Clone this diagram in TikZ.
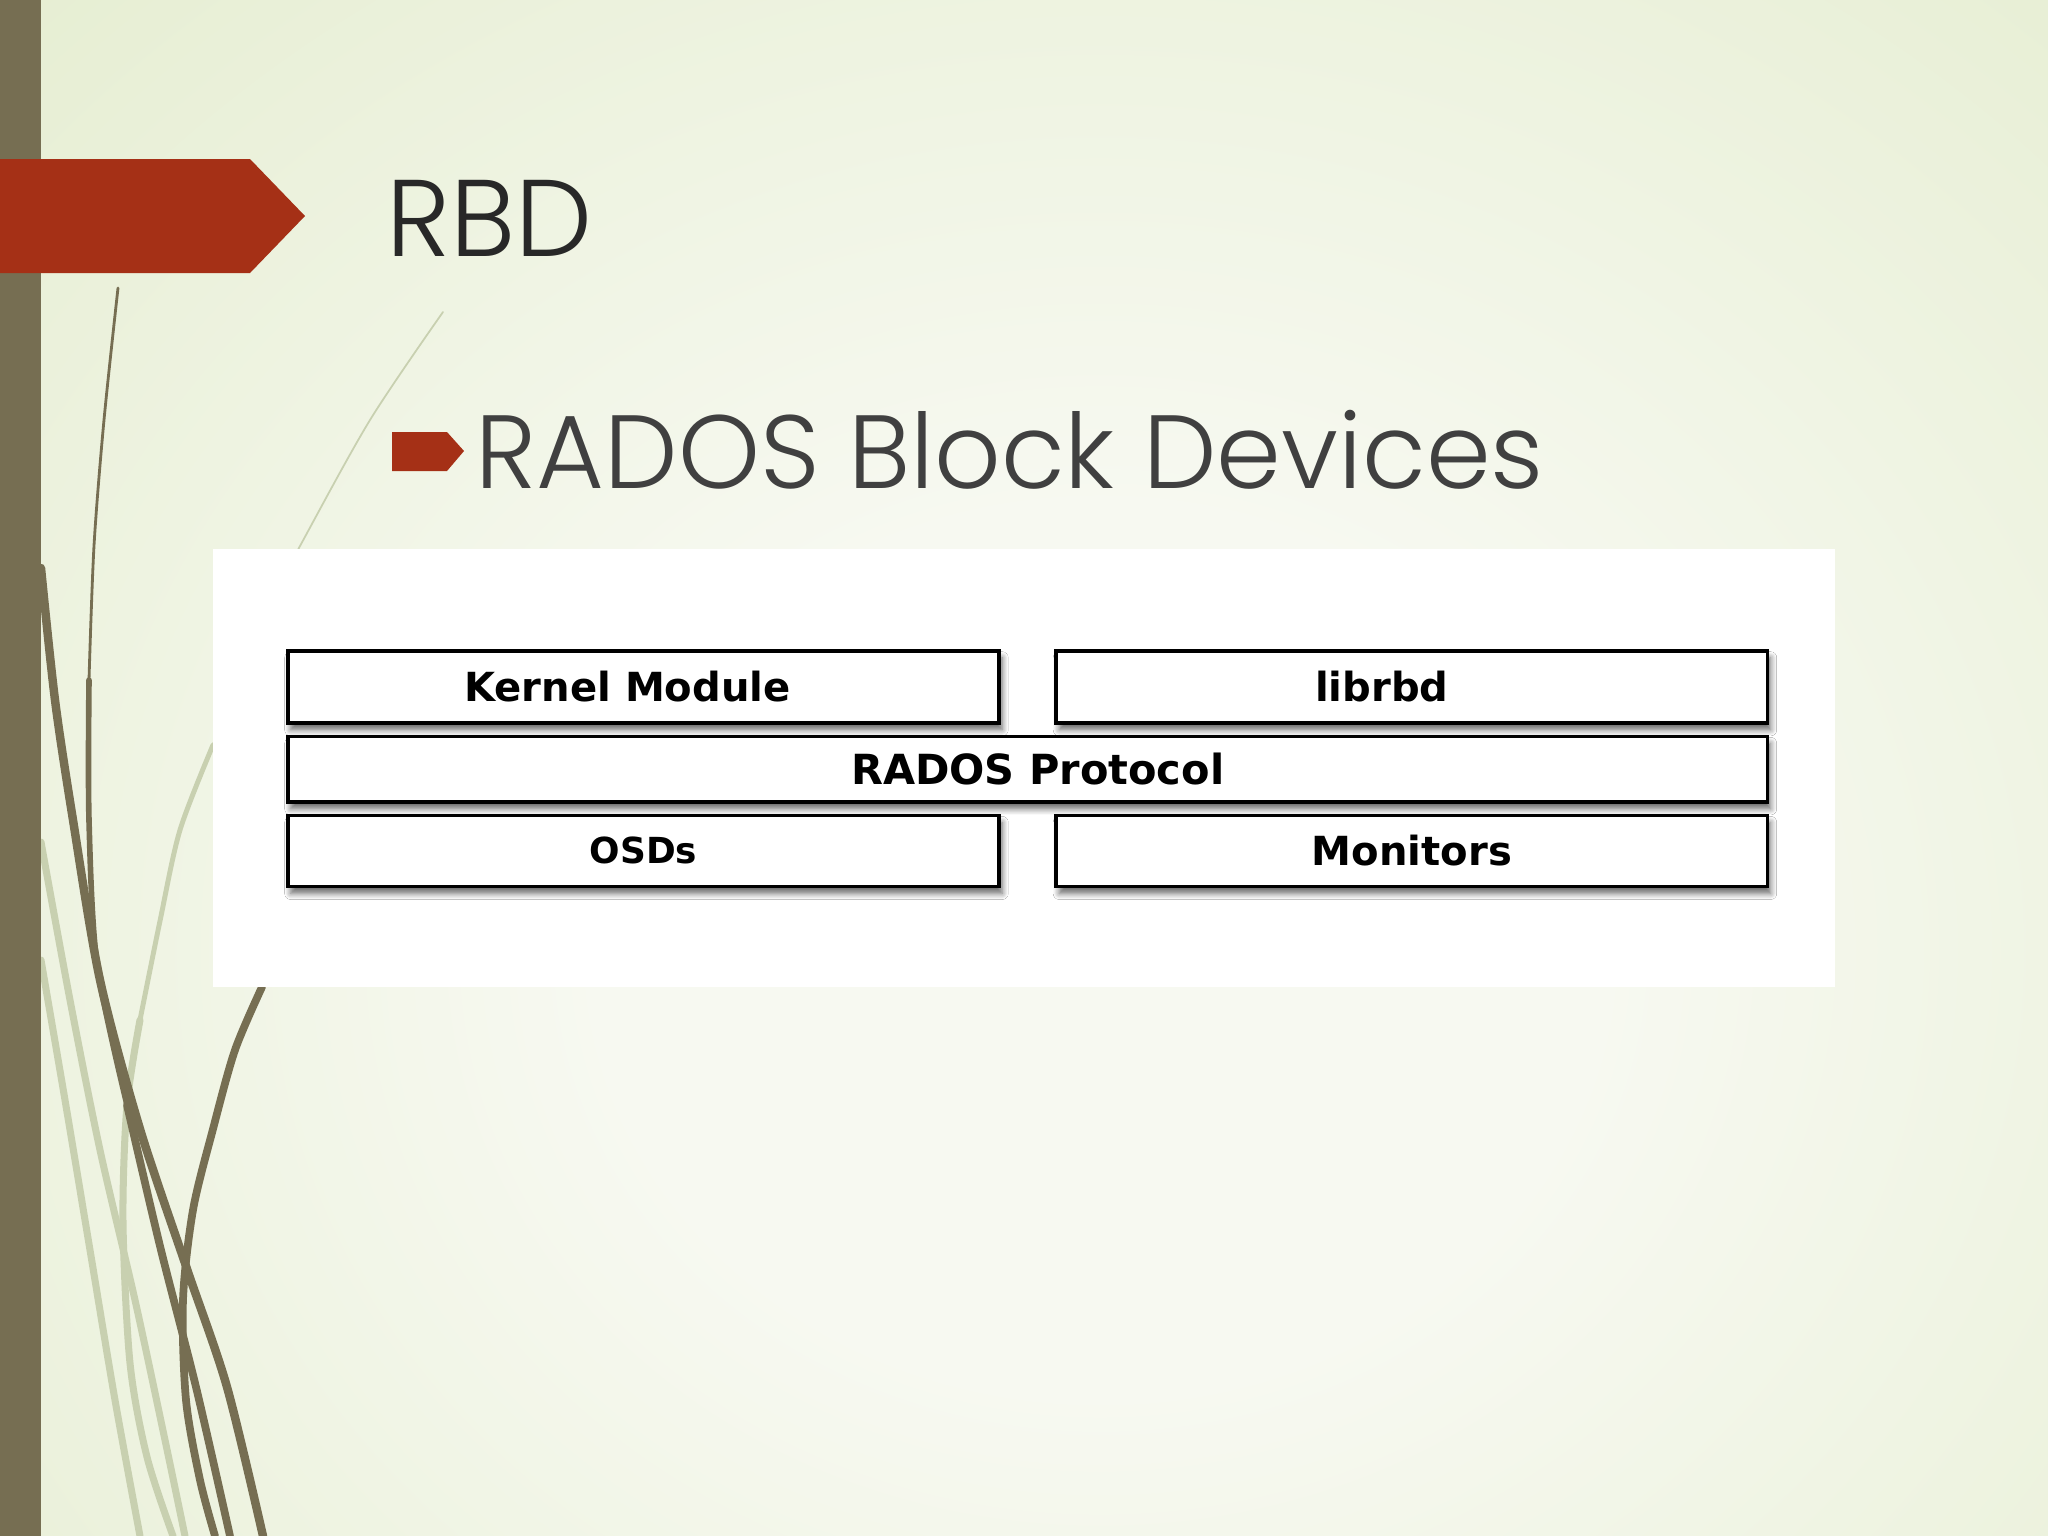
\documentclass[tikz,border=0pt]{standalone}
\usepackage{fontspec}
\newfontfamily\slidefont{Poppins Light}
\newfontfamily\boxfont{DejaVu Sans}
\usetikzlibrary{positioning, shadows.blur}

\definecolor{barOlive}{RGB}{118,110,82}
\definecolor{grassLight}{RGB}{200,208,176}
\definecolor{tabRed}{RGB}{165,48,22}
\definecolor{bgIn}{RGB}{247,249,241}
\definecolor{bgOut}{RGB}{221,232,194}
\definecolor{titleGray}{RGB}{40,40,40}
\definecolor{textGray}{RGB}{64,64,64}

\pgfdeclareradialshading{slideBg}{\pgfpoint{0bp}{0bp}}{color(0bp)=(bgIn); color(10bp)=(bgIn); color(42bp)=(bgOut); color(80bp)=(bgOut)}

\tikzset{
    styleLayer/.style={draw=black, line width=1pt, fill=white, inner sep=0pt,
        minimum width=7.11cm, minimum height=0.72cm,
        font=\boxfont\bfseries\fontsize{11.4}{13}\selectfont,
        blur shadow={shadow xshift=0.03cm, shadow yshift=-0.07cm, shadow blur steps=6, shadow opacity=60}}, % one layer of the stack
    styleGrass/.style={draw=barOlive, line width=2.4pt, line cap=round},
    styleGrassLight/.style={draw=grassLight, line width=2pt, line cap=round},
}

\begin{document}
\begin{tikzpicture}[x=0.01cm, y=-0.01cm]
    \useasboundingbox (0,0) rectangle (2048,1536);
    % background
    \begin{scope}
        \clip (0,0) rectangle (2048,1536);
        \shade[shading=slideBg] (-150,-150) rectangle (2350,2050);
    \end{scope}
    % grass strokes on the left
    \draw[styleGrassLight, line width=0.5pt] plot[smooth] coordinates {(443,312) (370,420) (300,546) (250,640) (213,745)};
    \draw[styleGrassLight, line width=1.4pt] plot[smooth] coordinates {(213,745) (180,830) (160,921) (140,1020)};
    \draw[styleGrassLight] plot[smooth] coordinates {(140,1020) (127,1105) (123,1222) (130,1363) (147,1457) (173,1536)};
    \draw[styleGrassLight] plot[smooth] coordinates {(41,842) (70,1000) (100,1150) (135,1300) (165,1440) (185,1536)};
    \draw[styleGrassLight] plot[smooth] coordinates {(41,960) (65,1100) (90,1250) (115,1400) (140,1536)};
    \draw[styleGrass, line width=0.8pt] plot[smooth] coordinates {(118,288) (104,420) (94,546) (89,680)};
    \draw[styleGrass, line width=1.6pt] plot[smooth] coordinates {(89,680) (89,820) (97,964) (127,1105)};
    \draw[styleGrass, line width=2.2pt] plot[smooth] coordinates {(127,1105) (160,1246) (196,1387) (230,1536)};
    \draw[styleGrass] plot[smooth] coordinates {(41,568) (55,700) (73,820) (100,980) (140,1129) (187,1269) (227,1387) (263,1536)};
    \draw[styleGrass, line width=2.2pt] plot[smooth] coordinates {(262,987) (235,1050) (213,1129) (193,1210) (183,1300) (186,1400) (200,1480) (215,1536)};
    % left bar and title tab
    \fill[barOlive] (0,0) rectangle (41,1536);
    \fill[tabRed] (0,159) -- (250,159) -- (305,216) -- (250,273) -- (0,273) -- cycle;
    \node[anchor=base west, inner sep=0pt, text=titleGray, font=\slidefont\fontsize{31}{36}\selectfont] (title) at (386,256) {RBD};
    % bullet
    \fill[tabRed] (392,432) -- (447,432) -- (464,451) -- (447,471) -- (392,471) -- cycle;
    \node[anchor=base west, inner sep=0pt, text=textGray, font=\slidefont\fontsize{29.6}{34}\selectfont] (sub) at (475,488) {RADOS Block Devices};
    % white panel with the stack
    \fill[white] (213,549) rectangle (1835,987);
    \node[styleLayer, anchor=north west] (kern) at (286,649) {Kernel Module\kern0.32cm};
    \node[styleLayer, right=0.535cm of kern] (lib) {librbd\kern0.6cm};
    \node[styleLayer, below=0.1cm of kern.south west, anchor=north west, minimum width=14.79cm, minimum height=0.655cm, font=\boxfont\bfseries\fontsize{11.8}{13}\selectfont] (proto) {\hspace{0.2cm}RADOS Protocol};
    \node[styleLayer, below=0.1cm of proto.south west, anchor=north west, minimum height=0.71cm, font=\boxfont\bfseries\fontsize{10.2}{12}\selectfont] (osd) {OSDs};
    \node[styleLayer, right=0.535cm of osd, minimum height=0.71cm] (mon) {Monitors};
\end{tikzpicture}
\end{document}
